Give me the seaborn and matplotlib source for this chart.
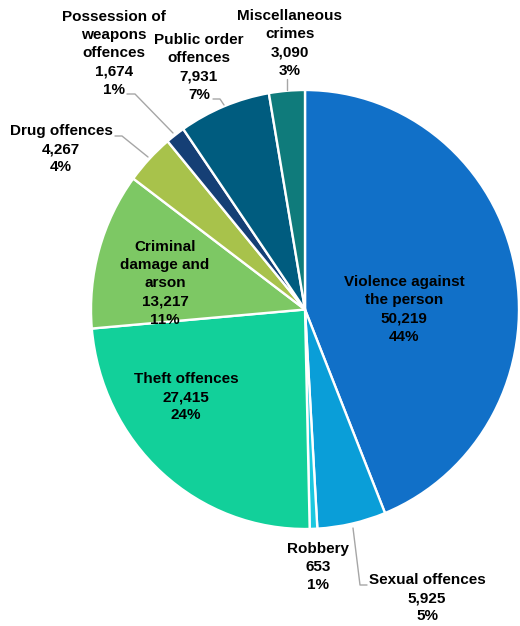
import matplotlib
matplotlib.use("Agg")
import matplotlib.pyplot as plt
import seaborn as sns

sns.set_theme(style="white")
plt.rcParams['font.family'] = ['Liberation Sans', 'DejaVu Sans']

# Offence categories (clockwise from 12 o'clock)
categories = [
    "Violence against\nthe person",
    "Sexual offences",
    "Robbery",
    "Theft offences",
    "Criminal\ndamage and\narson",
    "Drug offences",
    "Possession of\nweapons\noffences",
    "Public order\noffences",
    "Miscellaneous\ncrimes",
]
counts = [50219, 5925, 653, 27415, 13217, 4267, 1674, 7931, 3090]
percent_labels = ["44%", "5%", "1%", "24%", "11%", "4%", "1%", "7%", "3%"]
colors = ["#1170C8", "#0A9ED8", "#1CC8DF", "#12D09A", "#7DC864",
          "#A8C24B", "#153F75", "#005C7F", "#0F7B7B"]

W, H = 520, 626
# the pie is drawn slightly taller than wide
STRETCH = 219.5 / 214.0
LINE_PITCH = 18.2

fig = plt.figure(figsize=(W / 100, H / 100), dpi=100)
ax = fig.add_axes([0, 0, 1, 1])


def px(x, y):
    """Pixel position (from the top-left) to data coordinates."""
    return x, (H - y) / STRETCH


cx, cy = px(305, 309.5)
ax.pie(counts, colors=colors, startangle=90, counterclock=False,
       center=(cx, cy), radius=214, frame=True,
       wedgeprops=dict(edgecolor="white", linewidth=1.7))
ax.set_aspect("auto")
ax.set_xlim(0, W)
ax.set_ylim(0, H / STRETCH)
ax.axis("off")

# Label anchors: horizontal centre and first baseline, in pixels from the top-left
label_pos = [(404, 286), (427, 584), (318, 553), (186, 383), (165, 251),
             (61, 135), (114, 21), (199, 44), (290, 20)]

for name, n, pct, (x, y0) in zip(categories, counts, percent_labels, label_pos):
    lines = name.split("\n") + [f"{n:,}", pct]
    for i, line in enumerate(lines):
        tx, ty = px(x, y0 + i * LINE_PITCH)
        ax.text(tx, ty, line, ha="center", va="baseline",
                fontsize=11, fontweight="bold", color="black")

# Leader lines for the small outer slices
leaders = [
    [(127, 94), (135, 94), (173, 133)],
    [(213, 99), (220, 99), (224, 105)],
    [(287, 79), (287, 90)],
    [(115, 136), (122, 136), (148, 157)],
    [(353, 528), (360, 585), (367, 585)],
]
for pts in leaders:
    conv = [px(x, y) for x, y in pts]
    ax.plot([p[0] for p in conv], [p[1] for p in conv],
            color="#A6A6A6", linewidth=1.0)

fig.savefig("out.png", dpi=100)
